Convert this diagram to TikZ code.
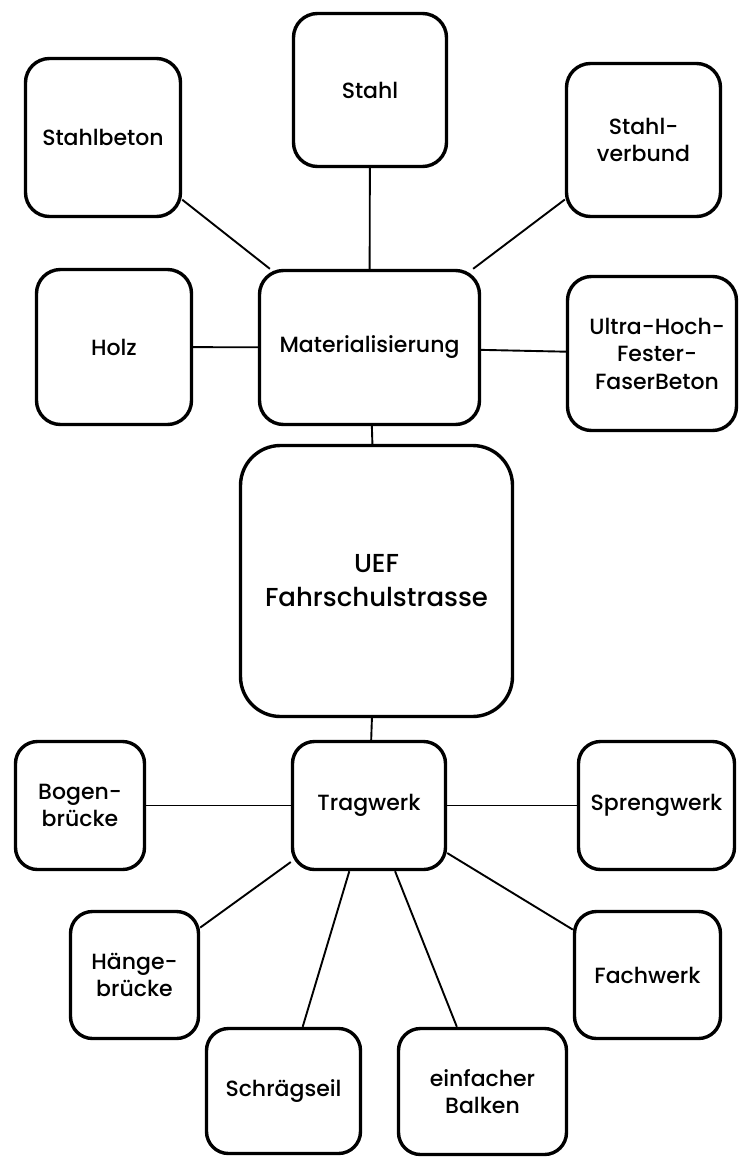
\documentclass[tikz,border=0pt]{standalone}
\usepackage{fontspec}
\setmainfont{Poppins}[UprightFont=* Medium]
\begin{document}
\begin{tikzpicture}[x=1pt,y=-1pt,
  box/.style={draw=black,line width=3.4pt,rounded corners=24pt,inner sep=0pt,align=center,
    font=\fontsize{22}{27.5}\selectfont},
  bigbox/.style={box,rounded corners=40pt,font=\fontsize{26}{34}\selectfont},
  link/.style={draw=black,line width=1.9pt}]
\useasboundingbox (0,0) rectangle (739,1157);
\node[box,minimum width=155pt,minimum height=158pt] (stahlbeton) at (103,137.5) {Stahlbeton};
\node[box,minimum width=153pt,minimum height=153pt] (stahl) at (370,90) {Stahl};
\node[box,minimum width=154pt,minimum height=153pt] (verbund) at (643.5,140) {Stahl-\\verbund};
\node[box,minimum width=155pt,minimum height=155pt] (holz) at (114,347) {Holz};
\node[box,minimum width=220pt,minimum height=154pt] (mat) at (369.5,347.5) {Materialisierung};
\node[box,minimum width=169pt,minimum height=154pt] (uhfb) at (652,353.5) {\hspace*{10pt}Ultra-Hoch-\\\hspace*{10pt}Fester-\\\hspace*{10pt}FaserBeton};
\node[bigbox,minimum width=272pt,minimum height=271pt] (uef) at (376.5,581) {UEF\\Fahrschulstrasse};
\node[box,rounded corners=22pt,minimum width=129pt,minimum height=128pt] (bogen) at (80,805.5) {Bogen-\\brücke};
\node[box,rounded corners=22pt,minimum width=153pt,minimum height=128pt] (trag) at (369,805.5) {Tragwerk};
\node[box,rounded corners=22pt,minimum width=156pt,minimum height=128pt] (spreng) at (656.5,805.5) {Sprengwerk};
\node[box,rounded corners=22pt,minimum width=128pt,minimum height=127pt] (haenge) at (134.5,975) {Hänge-\\brücke};
\node[box,rounded corners=22pt,minimum width=146pt,minimum height=127pt] (fach) at (647.5,975) {Fachwerk};
\node[box,rounded corners=22pt,minimum width=154pt,minimum height=125pt] (schraeg) at (283.5,1091) {Schrägseil};
\node[box,rounded corners=22pt,minimum width=168pt,minimum height=126pt] (balken) at (482.5,1091.5) {einfacher\\Balken};
\foreach \n in {stahlbeton,stahl,verbund,holz,uhfb}{\draw[link] (mat) -- (\n);}
\draw[link] (mat) -- (uef);
\draw[link] (uef) -- (trag);
\foreach \n in {bogen,spreng,haenge,fach,schraeg,balken}{\draw[link] (trag) -- (\n);}
\end{tikzpicture}
\end{document}
